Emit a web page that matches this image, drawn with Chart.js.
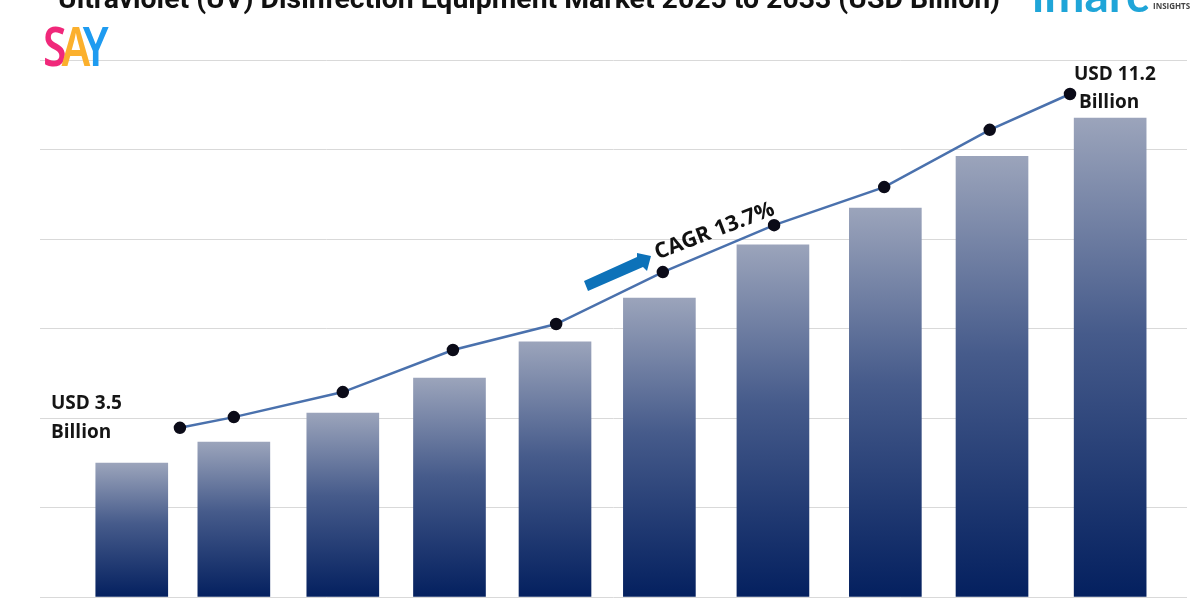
<!DOCTYPE html>
<html>
<head>
<meta charset="utf-8">
<title>Ultraviolet (UV) Disinfection Equipment Market</title>
<script src="https://cdn.jsdelivr.net/npm/chart.js@4"></script>
<style>
    html, body { margin: 0; padding: 0; background: #fff; overflow: hidden; }
    #wrap { position: relative; width: 1200px; height: 600px; overflow: hidden; }
    #chart { position: absolute; left: 0; top: 0; }
    .txt { position: absolute; white-space: nowrap; font-family: "Open Sans", sans-serif; font-weight: 700; color: #111; }
    #title { left: 0; width: 1058px; text-align: center; top: -16px; font-size: 28.4px; line-height: 30px; font-family: Roboto, sans-serif; }
    #say { left: 43px; top: 17px; font-family: "Noto Sans", sans-serif; font-size: 55px; line-height: 56px; letter-spacing: -6.5px; font-weight: 600; transform: scaleX(0.78); transform-origin: left center; }
    #imarc { left: 1032px; top: -34px; font-family: Lato, sans-serif; font-weight: 700; font-size: 48px; line-height: 56px; color: #1fa5d8; }
    #insights { left: 1153px; top: 2px; font-size: 8px; line-height: 8px; color: #444; }
    .callout { font-family: "Open Sans", sans-serif; font-size: 19px; line-height: 29px; font-weight: 700; color: #151515; }
    #cagr { left: 655px; top: 238px; font-size: 21.5px; line-height: 28px; font-weight: 700; transform: rotate(-21deg); transform-origin: left center; }
    #arrow { position: absolute; left: 580px; top: 250px; }
</style>
</head>
<body>
<div id="wrap">
    <canvas id="chart" width="1200" height="600"></canvas>
    <div class="txt" id="title">Ultraviolet (UV) Disinfection Equipment Market 2025 to 2033 (USD Billion)</div>
    <div class="txt" id="say"><span style="color:#f0287a">S</span><span style="color:#fbb02d">A</span><span style="color:#1e9bf0">Y</span></div>
    <div class="txt" id="imarc">imarc</div>
    <div class="txt" id="insights">INSIGHTS</div>
    <div class="txt callout" style="left:51px;top:388px">USD 3.5</div>
    <div class="txt callout" style="left:51px;top:417px">Billion</div>
    <div class="txt callout" style="left:1074px;top:59px">USD 11.2</div>
    <div class="txt callout" style="left:1079px;top:87px">Billion</div>
    <div class="txt" id="cagr">CAGR 13.7%</div>
    <svg id="arrow" width="76" height="44"><polygon points="4,31 57,7 57,3 71,6 67,21 63,17 8,41" fill="#0d72b9"/></svg>
</div>
<script>
// no axis labels in the picture, positions are read as fractions along the axis (0-10)
var barSlots = [0.80, 1.69, 2.64, 3.57, 4.49, 5.40, 6.39, 7.37, 8.30, 9.33];
var barValues = [2.99, 3.46, 4.11, 4.89, 5.70, 6.68, 7.87, 8.69, 9.85, 10.70];
var lineSlots = [1.22, 1.69, 2.64, 3.60, 4.50, 5.43, 6.40, 7.36, 8.28, 8.98];
var lineValues = [3.78, 4.02, 4.58, 5.52, 6.10, 7.26, 8.31, 9.16, 10.44, 11.24];

function pairs(xs, ys) {
    return xs.map(function (x, i) { return { x: x, y: ys[i] }; });
}

// each bar fades from grey-blue at its top to navy at the axis
function barFill(context) {
    var chart = context.chart;
    if (!chart.chartArea || !context.parsed) return '#0a2463';
    var top = chart.scales.y.getPixelForValue(context.parsed.y);
    var grad = chart.ctx.createLinearGradient(0, top, 0, chart.chartArea.bottom);
    grad.addColorStop(0, '#9ba4bb');
    grad.addColorStop(0.45, '#465b8b');
    grad.addColorStop(1, '#04205f');
    return grad;
}

var ctx = document.getElementById('chart').getContext('2d');
var marketChart = new Chart(ctx, {
    data: {
        datasets: [{
            type: 'line',
            data: pairs(lineSlots, lineValues),
            borderColor: '#4a71ad',
            borderWidth: 2.5,
            pointBackgroundColor: '#0b0b18',
            pointBorderColor: '#0b0b18',
            pointRadius: 5,
            tension: 0,
            order: 1
        }, {
            type: 'bar',
            data: pairs(barSlots, barValues),
            backgroundColor: barFill,
            barThickness: 72,
            order: 2
        }]
    },
    options: {
        responsive: false,
        animation: false,
        layout: { autoPadding: false, padding: { left: 40, right: 13, top: 60, bottom: 3 } },
        plugins: { legend: { display: false }, tooltip: { enabled: false } },
        scales: {
            x: { type: 'linear', min: 0, max: 10, offset: false, display: false },
            y: {
                min: 0,
                max: 12,
                ticks: { stepSize: 2, display: false },
                grid: { color: '#d9d9d9', lineWidth: 1, drawTicks: false },
                border: { display: false }
            }
        }
    }
});
</script>
</body>
</html>
